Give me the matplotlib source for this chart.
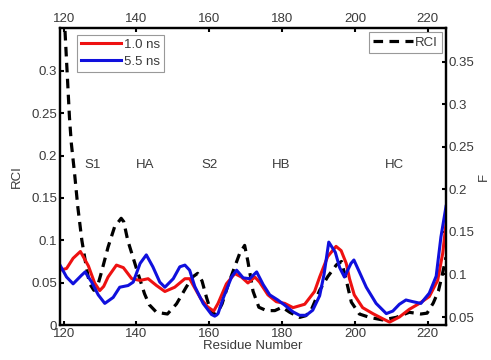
import matplotlib
matplotlib.use('Agg')
from matplotlib import pyplot as plt

plt.rcParams['font.family'] = ['Liberation Sans', 'DejaVu Sans']
plt.rcParams['font.size'] = 9.5

# RCI (dashed, left axis)
rci_x = [119.8, 120.4, 121.0, 121.6, 122.1, 123.0, 123.9, 125.0, 126.2, 127.1, 128.3, 129.3,
         130.3, 132.2, 134.0, 135.8, 136.5, 137.6, 139.9, 142.2, 143.5, 145.5, 148.5, 151.0,
         153.7, 155.5, 156.8, 158.0, 159.2, 160.5, 162.0, 163.5, 165.2, 167.0, 168.3, 169.7,
         170.6, 172.0, 173.6, 175.7, 178.0, 180.0, 182.1, 184.8, 186.5, 188.0, 190.3, 192.5,
         194.9, 196.3, 197.6, 199.0, 201.2, 204.0, 207.6, 211.3, 214.9, 218.1, 219.8, 221.5,
         222.9, 224.0, 225.0]
rci_y = [0.41, 0.345, 0.295, 0.245, 0.215, 0.179, 0.139, 0.100, 0.069, 0.049, 0.041, 0.046,
         0.061, 0.092, 0.116, 0.126, 0.122, 0.100, 0.068, 0.037, 0.024, 0.015, 0.013, 0.025,
         0.045, 0.057, 0.061, 0.052, 0.033, 0.015, 0.012, 0.025, 0.048, 0.069, 0.084, 0.094,
         0.075, 0.040, 0.021, 0.017, 0.017, 0.021, 0.015, 0.009, 0.011, 0.018, 0.041, 0.057,
         0.071, 0.075, 0.053, 0.027, 0.013, 0.009, 0.006, 0.009, 0.015, 0.013, 0.014, 0.026,
         0.040, 0.060, 0.080]

# F, 1.0 ns (red, right axis)
f1_x = [119.0, 120.8, 122.6, 124.6, 126.8, 128.5, 129.9, 131.0, 132.2, 134.5, 136.4, 138.7,
        141.0, 143.2, 145.5, 147.8, 150.5, 153.3, 154.6, 155.5, 157.6, 159.5, 161.2, 162.4,
        164.7, 167.0, 168.8, 170.6, 172.5, 173.8, 176.1, 178.4, 180.7, 183.0, 186.2, 188.9,
        190.3, 192.5, 194.8, 196.2, 197.6, 198.5, 199.8, 202.1, 204.9, 207.6, 209.5, 212.2,
        214.9, 217.7, 220.4, 222.7, 224.1, 225.0]
f1_y = [0.105, 0.107, 0.119, 0.127, 0.110, 0.090, 0.081, 0.086, 0.097, 0.111, 0.108, 0.095,
        0.093, 0.095, 0.087, 0.080, 0.085, 0.095, 0.095, 0.088, 0.072, 0.062, 0.057, 0.066,
        0.089, 0.101, 0.097, 0.090, 0.097, 0.091, 0.076, 0.068, 0.066, 0.061, 0.065, 0.080,
        0.097, 0.121, 0.133, 0.128, 0.113, 0.095, 0.076, 0.061, 0.054, 0.048, 0.044, 0.050,
        0.059, 0.066, 0.074, 0.093, 0.125, 0.160]

# F, 5.5 ns (blue, right axis)
f5_x = [119.0, 120.8, 122.6, 124.9, 125.9, 127.7, 129.5, 131.3, 133.6, 135.4, 137.7, 139.1,
        141.0, 142.7, 144.5, 146.4, 147.8, 150.1, 151.9, 153.3, 154.6, 156.0, 158.3, 160.6,
        161.5, 162.4, 163.8, 166.1, 167.5, 169.3, 171.1, 173.0, 174.8, 176.6, 178.8, 180.7,
        183.0, 184.8, 186.6, 188.4, 190.3, 191.5, 192.8, 194.6, 195.8, 197.1, 198.9, 199.7,
        201.2, 203.1, 205.8, 208.6, 210.4, 212.2, 214.0, 215.9, 218.1, 220.4, 222.3, 223.6,
        225.0]
f5_y = [0.111, 0.097, 0.089, 0.099, 0.103, 0.091, 0.076, 0.066, 0.073, 0.085, 0.087, 0.091,
        0.113, 0.123, 0.109, 0.091, 0.085, 0.095, 0.109, 0.111, 0.105, 0.086, 0.066, 0.053,
        0.051, 0.054, 0.072, 0.097, 0.105, 0.096, 0.095, 0.103, 0.088, 0.076, 0.070, 0.064,
        0.056, 0.052, 0.052, 0.058, 0.075, 0.100, 0.138, 0.126, 0.108, 0.097, 0.113, 0.117,
        0.103, 0.085, 0.066, 0.054, 0.057, 0.065, 0.070, 0.068, 0.066, 0.078, 0.098, 0.144,
        0.180]

regions = ['S1', 'HA', 'S2', 'HB', 'HC']
region_x = [128.0, 142.3, 160.1, 179.8, 210.8]
region_y = 0.189

x_ticks = [120, 140, 160, 180, 200, 220]
left_ticks = [0, 0.05, 0.1, 0.15, 0.2, 0.25, 0.3]
left_labels = ['0', '0.05', '0.1', '0.15', '0.2', '0.25', '0.3']
right_ticks = [0.05, 0.1, 0.15, 0.2, 0.25, 0.3, 0.35]
right_labels = ['0.05', '0.1', '0.15', '0.2', '0.25', '0.3', '0.35']

txt = '#3a3a3a'

fig = plt.figure(figsize=(4.91, 3.6), dpi=100)
ax = fig.add_axes([0.1222, 0.0972, 0.7862, 0.825])
ax2 = ax.twinx()

ax.plot(rci_x, rci_y, color='black', lw=2.3, linestyle=(0, (3, 2)), label='RCI')
ax2.plot(f1_x, f1_y, color='#ee1111', lw=2.2, label='1.0 ns')
ax2.plot(f5_x, f5_y, color='#1010dd', lw=2.2, label='5.5 ns')

ax.set_xlim(119.0, 225.0)
ax.set_ylim(0, 0.3507)
ax2.set_ylim(0.0406, 0.3896)

ax.set_xticks(x_ticks)
ax.set_xticklabels([str(t) for t in x_ticks])
ax.set_yticks(left_ticks)
ax.set_yticklabels(left_labels)
ax2.set_yticks(right_ticks)
ax2.set_yticklabels(right_labels)

ax.tick_params(axis='x', direction='in', top=True, labeltop=True, length=3, width=1.5,
               labelcolor=txt, pad=2)
ax.tick_params(axis='y', direction='in', length=3, width=1.5, labelcolor=txt, pad=2)
ax2.tick_params(axis='y', direction='in', length=3, width=1.5, labelcolor=txt, pad=2)

for a in (ax, ax2):
    for s in a.spines.values():
        s.set_linewidth(1.6)

for name, xx in zip(regions, region_x):
    ax.text(xx, region_y, name, ha='center', va='center', color=txt)

ax.set_xlabel('Residue Number', color=txt, labelpad=0)
ax.set_ylabel('RCI', color=txt, labelpad=6)
ax2.set_ylabel('F', color=txt, labelpad=2)

leg1 = ax2.legend(loc='upper left', bbox_to_anchor=(0.045, 0.978), borderaxespad=0,
                  fancybox=False, edgecolor='#999999', framealpha=1, handlelength=3.0,
                  handletextpad=0.2, labelspacing=0.35, borderpad=0.3)
leg1.get_frame().set_linewidth(0.8)
leg2 = ax.legend(loc='upper right', bbox_to_anchor=(0.99, 0.985), borderaxespad=0,
                 fancybox=False, edgecolor='#999999', framealpha=1, handlelength=3.0,
                 handletextpad=0.2, borderpad=0.3)
leg2.get_frame().set_linewidth(0.8)
for t in leg1.get_texts() + leg2.get_texts():
    t.set_color(txt)

plt.savefig('out.png', dpi=100)
